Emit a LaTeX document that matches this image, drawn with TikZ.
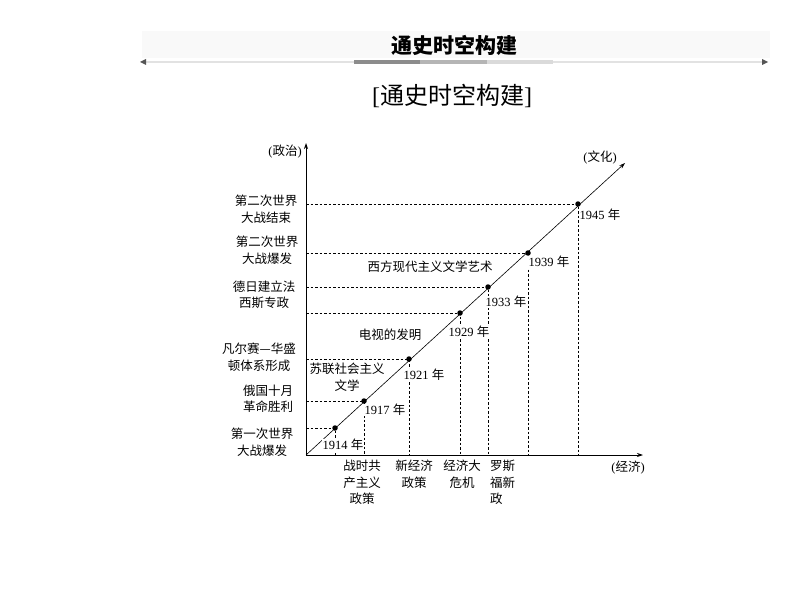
\documentclass[tikz,border=0pt]{standalone}
\usepackage{fontspec}
\setmainfont{Liberation Serif}
\newfontfamily\cjk{Noto Sans CJK SC}
\usetikzlibrary{arrows.meta,calc,positioning}
\definecolor{BandFill}{HTML}{F9F9F9}
\definecolor{RuleGray}{HTML}{E2E2E2}
\definecolor{TipGray}{HTML}{555555}
\definecolor{SegDark}{HTML}{8C8C8C}
\definecolor{SegMid}{HTML}{B5B5B5}
\definecolor{SegLight}{HTML}{DADADA}

\tikzset{
  cnlabel/.style={font=\cjk\fontsize{12.5}{16.5}\selectfont, align=center, inner sep=0pt},
  yrlabel/.style={font=\fontsize{12.5}{15}\selectfont, inner sep=0.6pt, fill=white},
  yeardot/.style={circle, fill=black, inner sep=0pt, minimum size=5.5pt},
  guide/.style={line width=0.6pt, dash pattern=on 2.5pt off 2pt},
  chartaxis/.style={->, line width=0.8pt},
}

\begin{document}
\begin{tikzpicture}[x=1pt,y=-1pt, line join=round, >={Stealth[length=6pt,width=4pt]}]
\useasboundingbox (0,0) rectangle (794,596);

% header band
\fill[BandFill] (142,31) rectangle (770,58);
\draw[RuleGray, line width=1.6pt] (146,62) -- (762,62);
\fill[TipGray] (140,62) -- (146,59) -- (146,65) -- cycle;
\fill[TipGray] (768,62) -- (762,59) -- (762,65) -- cycle;
\fill[SegDark] (354,60) rectangle (420,64);
\fill[SegMid] (420,60) rectangle (487,64);
\fill[SegLight] (487,60) rectangle (553,64);
\node[font=\cjk\bfseries\fontsize{21}{24}\selectfont] (hdr) at (454,45) {通史时空构建};
\node[font=\fontsize{24}{28}\selectfont] (ttl) at (452,96) {[{\cjk 通史时空构建}]};

% axes
\coordinate (O) at (306,455);
\coordinate (ytip) at (306,143);
\coordinate (xtip) at (643,455);
\coordinate (ctip) at (625,163);
\draw[chartaxis] (O) -- (ytip);
\draw[chartaxis] (O) -- (xtip);
\draw[chartaxis, line width=0.6pt] (O) -- (ctip);
\node[yrlabel, fill=none] (zz) at (285,152) {({\cjk 政治})};
\node[yrlabel, fill=none] (jj) at (628,468) {({\cjk 经济})};
\node[yrlabel, fill=none] (wh) at (600,158) {({\cjk 文化})};

% year dots and guide lines
\foreach \yr/\x/\y in {1914/335/428, 1917/364/401, 1921/409/359, 1929/460/313,
                       1933/488/287, 1939/528/253, 1945/578/204}
  \node[yeardot] (d\yr) at (\x,\y) {};
\foreach \yr in {1914,1917,1921,1929,1933,1939,1945}
  \draw[guide] (O |- d\yr.center) -| (d\yr.center |- O);

% year labels
\foreach \yr/\x/\y in {1914/343/445, 1917/385/410, 1921/424/375, 1929/469/332,
                       1933/506/302, 1939/549/262, 1945/600/215}
  \node[yrlabel] (t\yr) at (\x,\y) {\yr{} {\cjk 年}};

% politics (left)
\node[cnlabel] (p1) at (266,209) {第二次世界\\大战结束};
\node[cnlabel] (p2) at (267,250) {第二次世界\\大战爆发};
\node[cnlabel] (p3) at (264,295) {德日建立法\\西斯专政};
\node[cnlabel] (p4) at (259,357) {凡尔赛—华盛\\顿体系形成};
\node[cnlabel] (p5) at (268,399) {俄国十月\\革命胜利};
\node[cnlabel] (p6) at (262,442) {第一次世界\\大战爆发};

% culture (inside)
\node[cnlabel] (c1) at (430,267) {西方现代主义文学艺术};
\node[cnlabel] (c2) at (390,335) {电视的发明};
\node[cnlabel] (c3) at (347,377) {苏联社会主义\\文学};

% economy (bottom)
\node[cnlabel, anchor=north] (e1) at (362,460) {战时共\\产主义\\政策};
\node[cnlabel, anchor=north] (e2) at (414,460) {新经济\\政策};
\node[cnlabel, anchor=north] (e3) at (462,460) {经济大\\危机};
\node[cnlabel, anchor=north west, align=left] (e4) at (490,460) {罗斯\\福新\\政};

\end{tikzpicture}
\end{document}
